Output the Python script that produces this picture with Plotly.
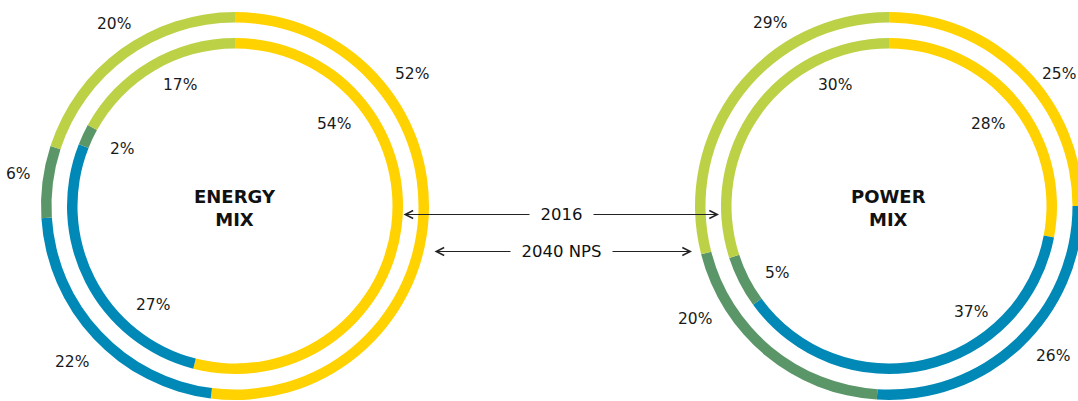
import plotly.graph_objects as go

# figure is slightly larger than the 1078x401 window so the right ring can
# run off the edge the way it does in the reference
W, H = 1092, 410

# ---- data ----
segments = ["Oil & gas", "Renewables", "Nuclear", "Coal"]
seg_colors = ["#FFD200", "#0089B7", "#5B9668", "#BDD146"]

energy_2016 = [54, 27, 2, 17]
energy_2040 = [52, 22, 6, 20]
power_2016 = [28, 37, 5, 30]
power_2040 = [25, 26, 20, 29]

chart_titles = ["ENERGY<br>MIX", "POWER<br>MIX"]
year_labels = ["2016", "2040 NPS"]

FONT = "DejaVu Sans"


def px(x):
    return x / W


def py(y):
    return 1 - y / H


def ring(values, x0, x1, y0, y1, thickness):
    r = min(x1 - x0, y1 - y0) / 2
    return go.Pie(
        values=values,
        labels=segments,
        marker=dict(colors=seg_colors, line=dict(width=0)),
        sort=False,
        direction="clockwise",
        rotation=0,
        hole=(r - thickness) / r,
        textinfo="none",
        hoverinfo="label+percent",
        showlegend=False,
        domain=dict(x=[px(x0), px(x1)], y=[py(y1), py(y0)]),
    )


T = 10.5
fig = go.Figure()
# left (energy): outer = 2040 NPS, inner = 2016
fig.add_trace(ring(energy_2040, 41, 429, 12, 400, T))
fig.add_trace(ring(energy_2016, 67, 403, 38, 374, T))
# right (power)
fig.add_trace(ring(power_2040, 695, 1083, 12, 400, T))
fig.add_trace(ring(power_2016, 721, 1057, 38, 374, T))

annotations = []

# percentage label positions (pixels, centre of text)
label_pos = {
    "energy_2040": [(412, 74), (72, 362), (18, 174), (114, 24)],
    "energy_2016": [(334, 124), (153, 305), (122, 149), (180, 85)],
    "power_2040": [(1059, 74), (1053, 356), (695, 319), (770, 23)],
    "power_2016": [(988, 124), (971, 312), (777, 273), (835, 85)],
}
series = {
    "energy_2040": energy_2040,
    "energy_2016": energy_2016,
    "power_2040": power_2040,
    "power_2016": power_2016,
}
pct_font = dict(family=FONT, size=15.5, color="#1a1a1a")
for key, vals in series.items():
    for v, (x, y) in zip(vals, label_pos[key]):
        annotations.append(dict(
            x=px(x), y=py(y), xref="paper", yref="paper",
            text=f"{v}%", showarrow=False, font=pct_font,
            xanchor="center", yanchor="middle",
        ))

# centre titles
for t, (x, y) in zip(chart_titles, [(235, 208), (888, 208)]):
    annotations.append(dict(
        x=px(x), y=py(y), xref="paper", yref="paper", text=f"<b>{t}</b>",
        showarrow=False, font=dict(family=FONT, size=18, color="#111111"),
        xanchor="center", yanchor="middle",
    ))

# double-headed arrows
arrow_rows = [(402, 719, 214.5), (433, 692, 251.5)]
for (xa, xb, y) in arrow_rows:
    annotations.append(dict(
        x=px(xb), y=py(y), xref="paper", yref="paper",
        ax=-(xb - xa), ay=0, axref="pixel", ayref="pixel",
        text="", showarrow=True, arrowside="end+start",
        arrowhead=5, startarrowhead=5, arrowsize=1.3, startarrowsize=1.3,
        arrowwidth=1.2, arrowcolor="#222222", standoff=0, startstandoff=0,
    ))
for lab, (xa, xb, y) in zip(year_labels, arrow_rows):
    annotations.append(dict(
        x=px(561), y=py(y), xref="paper", yref="paper",
        text=f"&nbsp;&nbsp;{lab}&nbsp;&nbsp;", showarrow=False,
        font=dict(family=FONT, size=16.5, color="#111111"),
        bgcolor="white", xanchor="center", yanchor="middle", borderpad=0,
    ))

fig.update_layout(
    width=W, height=H,
    margin=dict(l=0, r=0, t=0, b=0),
    paper_bgcolor="white", plot_bgcolor="white",
    annotations=annotations,
)

fig.write_html(
    "out.html",
    config={"displayModeBar": False},
    post_script="document.body.style.margin='0';"
                "document.body.style.overflow='hidden';",
)
